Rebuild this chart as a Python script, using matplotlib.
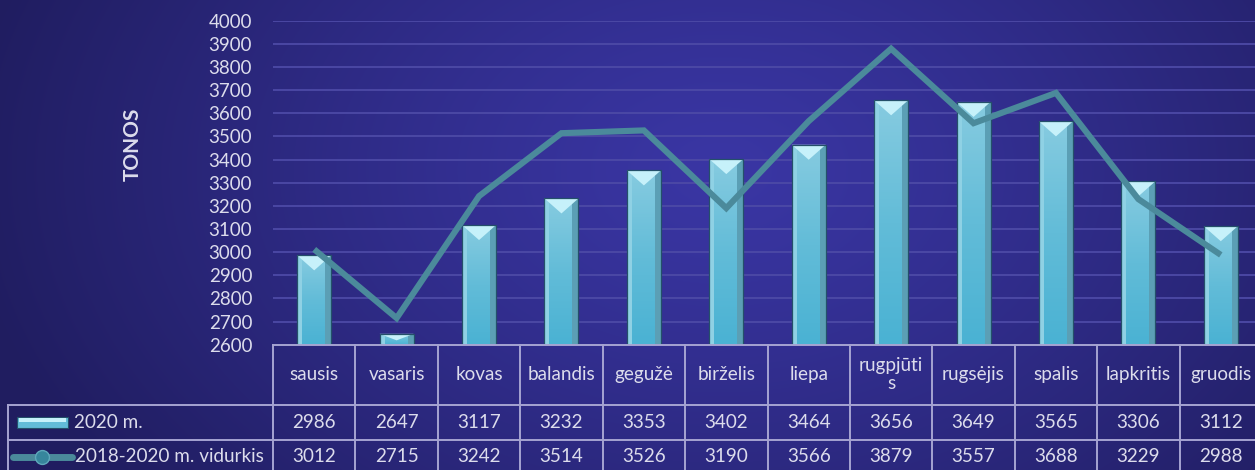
import numpy as np
import matplotlib
matplotlib.use('Agg')
import matplotlib.pyplot as plt
from matplotlib.patches import Polygon, Rectangle
from matplotlib.lines import Line2D
from matplotlib.colors import LinearSegmentedColormap

# ---------------- data ----------------
months = ['sausis', 'vasaris', 'kovas', 'balandis', 'gegužė', 'birželis', 'liepa',
          'rugpjūti\ns', 'rugsėjis', 'spalis', 'lapkritis', 'gruodis']
series_bar_name = '2020 m.'
series_line_name = '2018-2020 m. vidurkis'
values_2020 = [2986, 2647, 3117, 3232, 3353, 3402, 3464, 3656, 3649, 3565, 3306, 3112]
values_avg = [3012, 2715, 3242, 3514, 3526, 3190, 3566, 3879, 3557, 3688, 3229, 2988]
y_ticks = list(range(2600, 4001, 100))
y_label = 'TONOS'

# ---------------- style ----------------
plt.rcParams['font.family'] = ['Lato', 'DejaVu Sans']
TXT = '#dcdcec'
GRID = '#4d4aa6'
TBL = '#a6a4d2'
LINE_C = '#4b8a9b'

W, H = 1255, 470
fig = plt.figure(figsize=(W / 100, H / 100), dpi=100)

# background gradient
bg = fig.add_axes([0, 0, 1, 1], zorder=-10)
yy, xx = np.mgrid[0:H, 0:W]
r = np.sqrt(((xx - 720) / 760.0) ** 2 + ((yy - 170) / 520.0) ** 2)
t = np.clip(r, 0, 1)[..., None] ** 1.2
c_in = np.array([0x3a, 0x36, 0xa4]) / 255.0
c_out = np.array([0x20, 0x1d, 0x60]) / 255.0
img = c_in + (c_out - c_in) * t
bg.imshow(img, aspect='auto', extent=[0, 1, 0, 1])
bg.axis('off')

# geometry in pixels
ax_l, ax_r, ax_t, ax_b = 273, 1262, 20.7, 344.7
col_w = (ax_r - ax_l) / 12.0
ax = fig.add_axes([ax_l / W, 1 - ax_b / H, (ax_r - ax_l) / W, (ax_b - ax_t) / H])
ax.set_facecolor('none')
x = np.arange(len(months))
ax.set_xlim(-0.5, len(months) - 0.5)
ax.set_ylim(y_ticks[0], y_ticks[-1])
ax.set_yticks(y_ticks)
ax.set_xticks([])
for s in ax.spines.values():
    s.set_visible(False)
ax.tick_params(axis='y', length=0, pad=15, labelsize=13.5, labelcolor=TXT)
for yv in y_ticks[1:]:
    ax.axhline(yv, color=GRID, lw=1.3, zorder=1)

# bars with bevel
bar_w = 34 / col_w
bars = ax.bar(x, values_2020, width=bar_w, color='#6cc0da', edgecolor='none', zorder=2)
px_per_y = (ax_b - ax_t) / (y_ticks[-1] - y_ticks[0])
ymin = y_ticks[0]
grad_cmap = LinearSegmentedColormap.from_list('g', ['#4ab2d3', '#62bcd8', '#86cbe0'])
grad = np.linspace(0, 1, 64).reshape(-1, 1)
for p in bars:
    x0 = p.get_x(); x1 = x0 + p.get_width(); y1 = p.get_height()
    vis_h_px = (y1 - ymin) * px_per_y
    xm = (x0 + x1) / 2
    sl = 5 / col_w
    sr = 6 / col_w
    dy = min(15, vis_h_px * 0.6) / px_per_y
    yb = ymin - 20
    im = ax.imshow(grad, cmap=grad_cmap, origin='lower', aspect='auto',
                   extent=[x0, x1, ymin, y1], zorder=2.05, interpolation='bilinear')
    im.set_clip_path(p)
    left = Rectangle((x0, yb), sl, y1 - yb, fc='#8fd1e4', ec='none', zorder=2.1)
    right = Rectangle((x1 - sr, yb), sr, y1 - yb, fc='#5b9fb5', ec='none', zorder=2.1)
    top = Polygon([(x0, y1), (x1, y1), (xm, y1 - dy)], closed=True,
                  fc='#c6f1fa', ec='none', zorder=2.2)
    outline = Rectangle((x0, yb), x1 - x0, y1 - yb, fc='none', ec='#24506a', lw=0.9, zorder=2.3)
    for patch in (left, right, top, outline):
        ax.add_patch(patch)
ax.set_xlim(-0.5, len(months) - 0.5)
ax.set_ylim(y_ticks[0], y_ticks[-1])

# line series
ax.plot(x, values_avg, color=LINE_C, lw=4.4, solid_capstyle='butt',
        solid_joinstyle='miter', zorder=4)

# y label
fig.text(133 / W, 1 - 144 / H, y_label, rotation=90, fontsize=15, fontweight='bold',
         color=TXT, ha='center', va='center')

# ---------------- data table ----------------
tb_top, tb_bot = 344.7, 474
tax = fig.add_axes([8 / W, 1 - tb_bot / H, (ax_r - 8) / W, (tb_bot - tb_top) / H])
tax.set_facecolor('none')
tax.axis('off')
x_left = -0.5 - (ax_l - 8) / col_w
tax.set_xlim(x_left, len(months) - 0.5)
tax.set_ylim(0, tb_bot - tb_top)
hgt = tb_bot - tb_top
y_r1 = tb_bot - 405   # boundary header/row1
y_r2 = tb_bot - 440   # boundary row1/row2

def px2x(px):
    return x_left + (px - 8) / col_w

kw = dict(color=TBL, lw=1.4, clip_on=False)
tax.plot([-0.5, len(months) - 0.5], [hgt, hgt], **kw)
tax.plot([x_left, len(months) - 0.5], [y_r1, y_r1], **kw)
tax.plot([x_left, len(months) - 0.5], [y_r2, y_r2], **kw)
for k in range(len(months) + 1):
    tax.plot([k - 0.5, k - 0.5], [0, hgt], **kw)
tax.plot([x_left + 0.004, x_left + 0.004], [0, y_r1], **kw)

fs = 13.6
for i, m in enumerate(months):
    tax.text(i, (y_r1 + hgt) / 2, m, ha='center', va='center', fontsize=fs, color=TXT,
             linespacing=1.05)
    tax.text(i, (y_r1 + y_r2) / 2 + 0.5, str(values_2020[i]), ha='center', va='center',
             fontsize=fs, color=TXT)
    tax.text(i, y_r2 / 2 + 0.5, str(values_avg[i]), ha='center', va='center',
             fontsize=fs, color=TXT)

# legend keys
r1c = (y_r1 + y_r2) / 2
r2c = y_r2 / 2
kx0, kx1 = px2x(17), px2x(68)
tax.add_patch(Rectangle((kx0, r1c - 5.5), kx1 - kx0, 11, fc='#62bcd8', ec='#24506a',
                        lw=0.8, zorder=3, clip_on=False))
tax.add_patch(Rectangle((kx0 + 0.03, r1c + 0.5), kx1 - kx0 - 0.06, 4.5, fc='#c6f1fa',
                        ec='none', zorder=3.1, clip_on=False))
tax.text(px2x(74), r1c + 0.5, series_bar_name, ha='left', va='center', fontsize=fs, color=TXT)
tax.add_line(Line2D([px2x(13), px2x(72)], [r2c, r2c], color=LINE_C, lw=5,
                    solid_capstyle='round', clip_on=False))
tax.add_line(Line2D([px2x(42)], [r2c], marker='o', markersize=10, markerfacecolor='#37869c',
                    markeredgecolor='#5fa8bb', markeredgewidth=1, clip_on=False))
tax.text(px2x(75), r2c + 0.5, series_line_name, ha='left', va='center', fontsize=fs, color=TXT)

fig.savefig('out.png', dpi=100)
